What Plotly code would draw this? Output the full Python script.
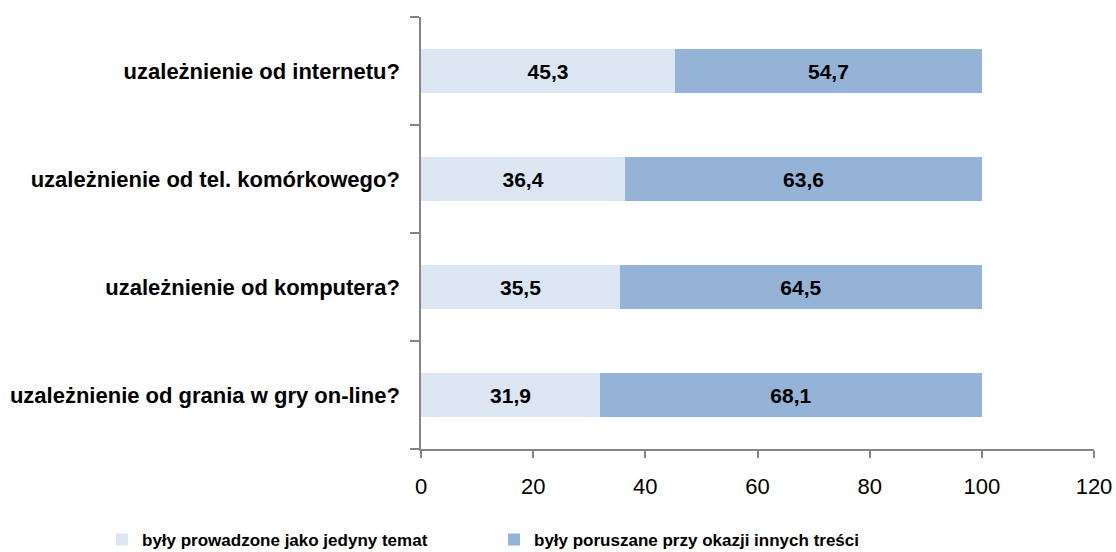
import plotly.graph_objects as go

categories = [
    "uzależnienie od grania w gry on-line?",
    "uzależnienie od komputera?",
    "uzależnienie od tel. komórkowego?",
    "uzależnienie od internetu?",
]
series_names = ["były prowadzone jako jedyny temat", "były poruszane przy okazji innych treści"]
jedyny = [31.9, 35.5, 36.4, 45.3]
inne = [68.1, 64.5, 63.6, 54.7]
x_ticks = [0, 20, 40, 60, 80, 100, 120]

bold_font = "Liberation Sans, Arial, sans-serif"

fig = go.Figure()
for name, vals, col, leg in [(series_names[0], jedyny, "#DCE6F2", "legend"),
                             (series_names[1], inne, "#95B3D7", "legend2")]:
    fig.add_trace(go.Bar(
        y=categories, x=vals, name=name, orientation="h",
        marker=dict(color=col, line=dict(width=0)),
        text=[f"{v:.1f}".replace(".", ",") for v in vals],
        textposition="inside", insidetextanchor="middle",
        textfont=dict(family=bold_font, size=21, color="#000000", weight="bold"),
        hoverinfo="skip", legend=leg,
    ))

legend_common = dict(
    orientation="h", xref="container", yref="container",
    xanchor="left", yanchor="middle", y=0.022,
    font=dict(family=bold_font, size=17, color="#000000", weight="bold"),
    bgcolor="rgba(0,0,0,0)", borderwidth=0,
)

fig.update_layout(
    barmode="stack",
    bargap=0.593,
    width=1116, height=552,
    margin=dict(l=421, r=22, t=17, b=103, autoexpand=False),
    plot_bgcolor="white", paper_bgcolor="white",
    uniformtext=dict(minsize=10, mode="show"),
    xaxis=dict(
        range=[0, 120], tickvals=x_ticks, ticktext=[str(t) for t in x_ticks],
        showgrid=False, zeroline=False, showline=True, linecolor="#868686", linewidth=1.5,
        ticks="outside", ticklen=7, tickcolor="#868686", tickwidth=1.5,
        tickfont=dict(family="Liberation Sans, Arial, sans-serif", size=22, color="#000000"),
        ticklabelstandoff=10, automargin=False,
        fixedrange=True,
    ),
    yaxis=dict(
        type="category", categoryorder="array", categoryarray=categories,
        showgrid=False, showline=True, linecolor="#868686", linewidth=1.5,
        ticks="outside", ticklen=9, tickcolor="#868686", tickwidth=1.5,
        tickson="boundaries", ticklabelstandoff=15, automargin=False,
        tickfont=dict(family=bold_font, size=22, color="#000000", weight="bold"),
        fixedrange=True,
    ),
    legend=dict(legend_common, x=102 / 1116),
    legend2=dict(legend_common, x=494 / 1116),
    showlegend=True,
)

fig.write_html(
    "out.html",
    config={"displayModeBar": False},
    post_script="document.body.style.margin='0';document.body.style.overflow='hidden';",
)
